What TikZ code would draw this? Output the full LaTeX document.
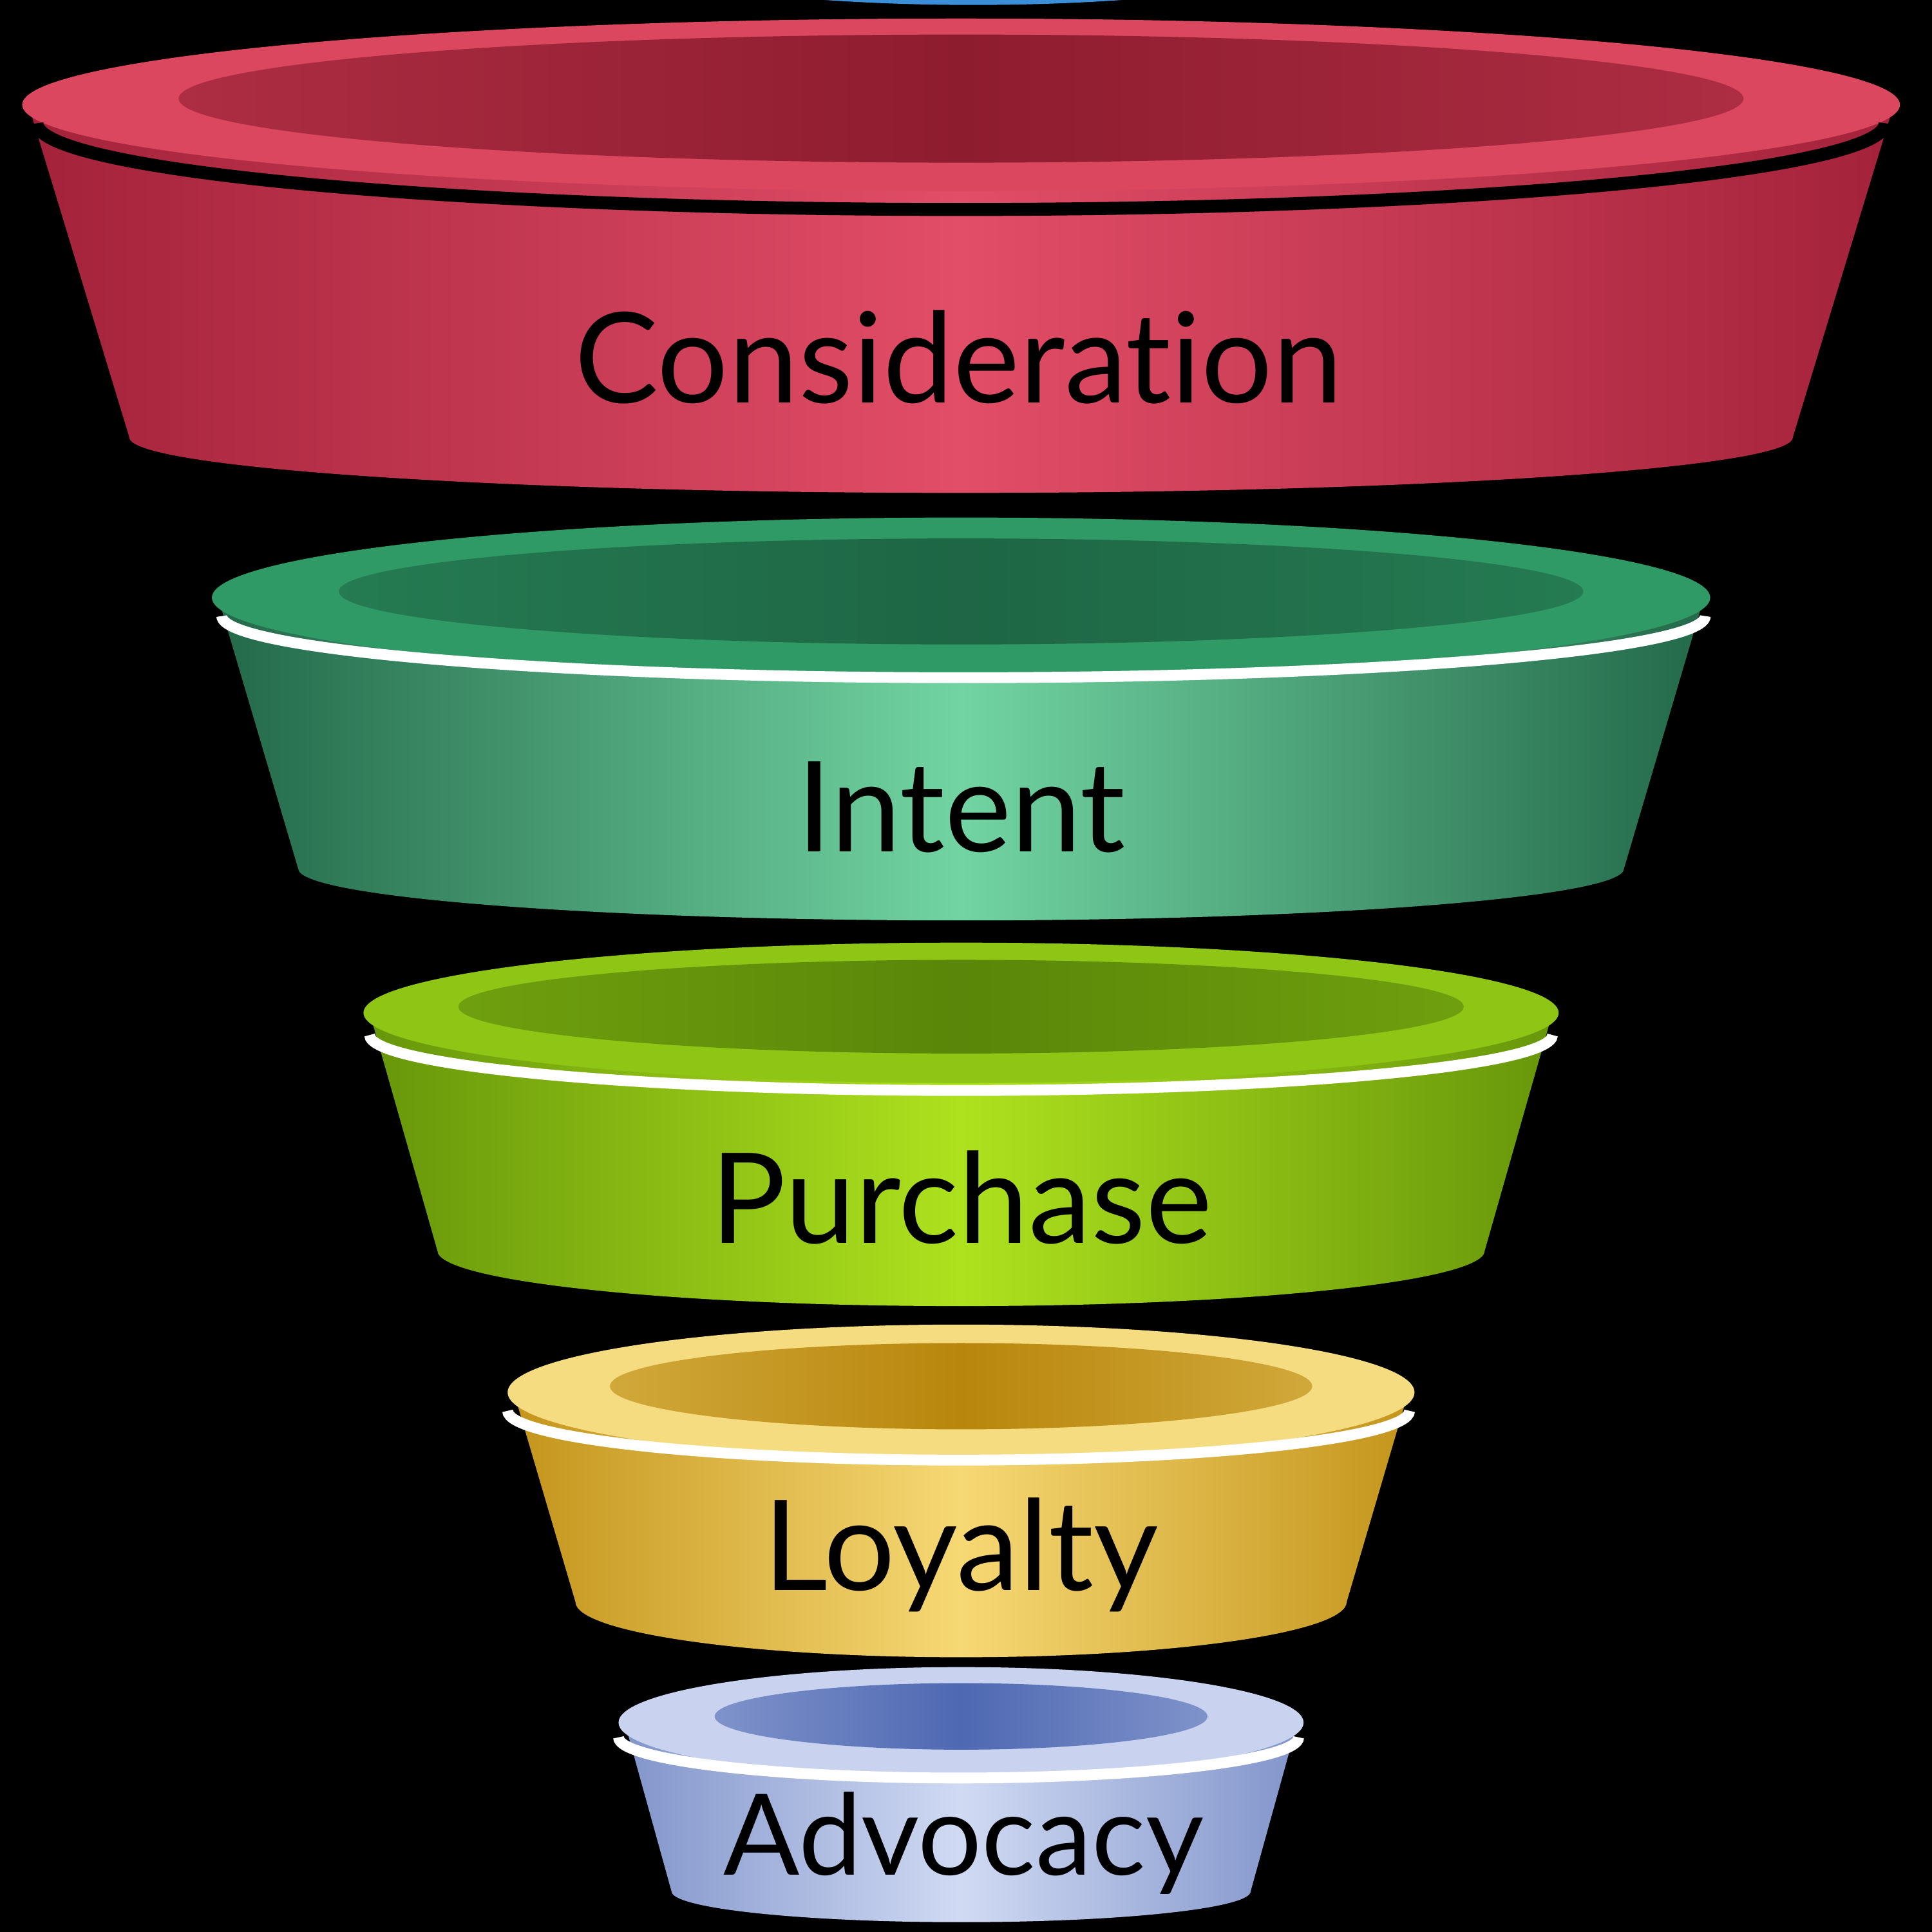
\documentclass[tikz,border=0pt]{standalone}
\usepackage{fontspec}
\setmainfont{Lato}[Ligatures={NoCommon}]
\begin{document}
\begin{tikzpicture}[x=0.01cm,y=-0.01cm]
\fill[black] (0,0) rectangle (1568,1568);
\useasboundingbox (0,0) rectangle (1568,1568);
\tikzset{lbl/.style={font=\fontsize{29}{30}\selectfont,text=black}}
\newcommand{\seg}[9]{%
 \shade[left color=#9d, right color=#9d, middle color=#9l]
   (780-#2+5,#1) -- (780-#7,#6) arc(180:0:#7 and #8) -- (780+#2-5,#1) -- cycle;
 \fill[#9r] (780,#1) ellipse ({#2} and {#3});
 \shade[left color=#9i!60!#9r, right color=#9i!60!#9r, middle color=#9i] (780,#1-5) ellipse ({#4} and {#5});
}
\definecolor{topb}{HTML}{3A8FD8}
\fill[topb] (790,-60) ellipse (345 and 64);
\definecolor{redd}{HTML}{A3223A}\definecolor{redl}{HTML}{E24D67}\definecolor{redr}{HTML}{DC4760}\definecolor{redi}{HTML}{8E1C2F}
\seg{85}{762}{70}{635}{52}{355}{675}{45}{red}
\draw[black,line width=3pt] (30,100) arc(180:0:750 and 70);
\definecolor{grnd}{HTML}{23694A}\definecolor{grnl}{HTML}{72D4A2}\definecolor{grnr}{HTML}{2F9A66}\definecolor{grni}{HTML}{1E6645}
\seg{485}{608}{65}{505}{43}{705}{538}{42}{grn}
\draw[white,line width=2.5pt] (180,500) arc(180:0:602 and 50);
\definecolor{limd}{HTML}{67960A}\definecolor{liml}{HTML}{AEE21E}\definecolor{limr}{HTML}{8FC616}\definecolor{limi}{HTML}{5A8609}
\seg{822}{485}{57}{408}{38}{1015}{425}{45}{lim}
\draw[white,line width=2.5pt] (300,840) arc(180:0:480 and 45);
\definecolor{yeld}{HTML}{C4951C}\definecolor{yell}{HTML}{F6D874}\definecolor{yelr}{HTML}{F6DC80}\definecolor{yeli}{HTML}{B8860C}
\seg{1130}{368}{55}{285}{35}{1300}{313}{45}{yel}
\draw[white,line width=2.5pt] (412,1145) arc(180:0:366 and 40);
\definecolor{blud}{HTML}{8295CB}\definecolor{blul}{HTML}{D0DAF3}\definecolor{blur}{HTML}{C9D3EF}\definecolor{blui}{HTML}{4E68B2}
\seg{1398}{278}{45}{200}{27}{1535}{235}{25}{blu}
\draw[white,line width=2.5pt] (502,1410) arc(180:0:276 and 33);
\node[lbl] (c) at (778,290) {Consideration};
\node[lbl] (i) at (780,655) {Intent};
\node[lbl] (p) at (780,972) {Purchase};
\node[lbl] (l) at (780,1262) {Loyalty};
\node[lbl,font=\fontsize{26}{27}\selectfont] (a) at (782,1496) {Advocacy};
\end{tikzpicture}
\end{document}
